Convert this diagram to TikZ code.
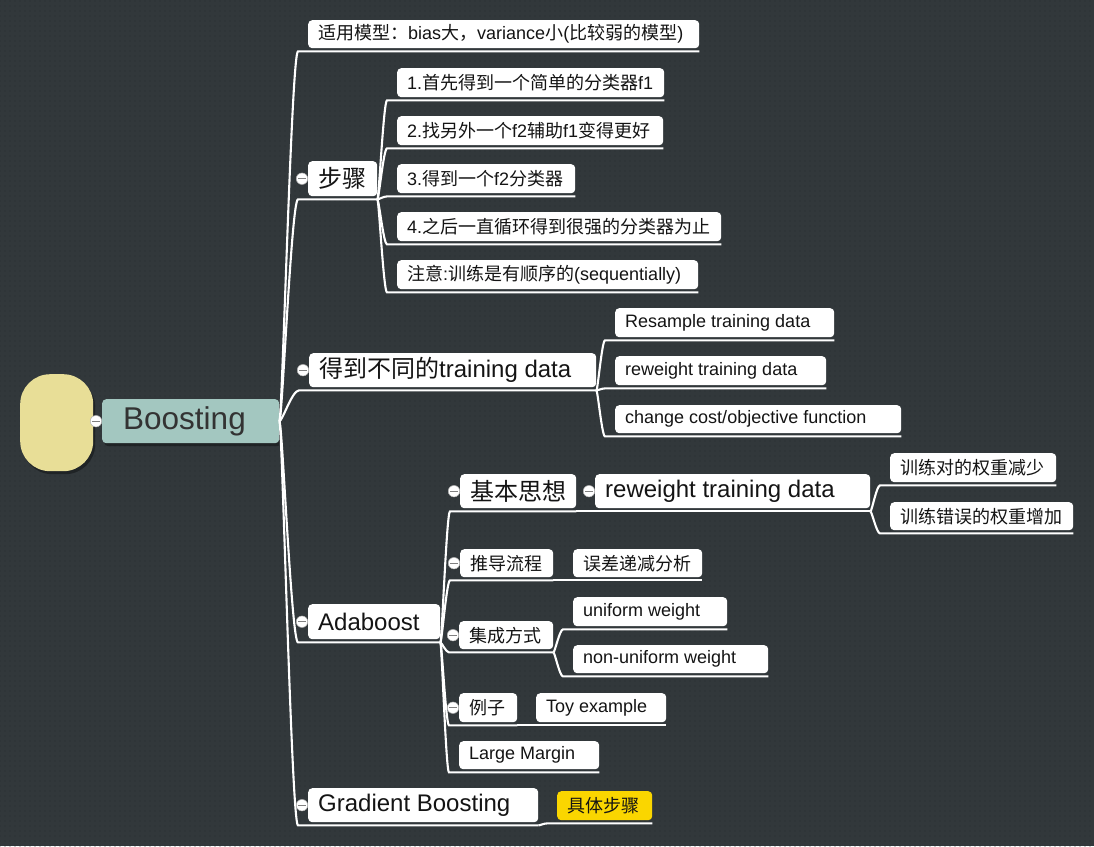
\documentclass[tikz,border=0pt]{standalone}
\usepackage{fontspec}
\setmainfont{Liberation Sans}
\newfontfamily\cjk{Noto Sans CJK SC}
\usetikzlibrary{calc,shadows,patterns.meta}
\definecolor{bg}{RGB}{50,56,59}
\definecolor{dot}{RGB}{40,45,47}
\definecolor{rootfill}{RGB}{163,199,192}
\definecolor{blobfill}{RGB}{232,222,151}
\definecolor{ylw}{RGB}{250,214,0}
\definecolor{txt}{RGB}{20,20,20}
\definecolor{roottxt}{RGB}{51,51,51}
\tikzset{
  leaf/.style={fill=white, rounded corners=4pt, text=txt},
  sm/.style={leaf, font=\fontsize{18}{21}\selectfont},
  lg/.style={leaf, font=\fontsize{24}{28}\selectfont},
  yl/.style={sm, fill=ylw},
  branch/.style={draw=white, line width=2.1pt},
  collapse/.style={circle, fill=white, draw=gray!60, line width=.5pt,
    minimum size=11.5pt, inner sep=0pt,
    path picture={\draw[gray, line width=1.4pt]
      ($(path picture bounding box.center)+(-3.6,0)$) -- ++(7.2,0);}},
  shade/.style={drop shadow={shadow xshift=2pt, shadow yshift=-3pt, fill=black, opacity=.35}}
}
% name, x1, y1, x2, y2, style, text
\newcommand\topic[7]{\node[#6, anchor=north west, minimum height={#5pt-#3pt},
  inner xsep=10pt, inner ysep=0pt] (#1) at (#2,#3)
  {\hbox to \dimexpr#4pt-#2pt-20pt\relax{#7\hfil}};}
% parent point, child node
\newcommand\link[2]{\draw[branch] let \p1=(#1), \p2=($(#2.south west)+(-10,3)$),
  \p3=($(#2.south east)+(0,3)$) in
  (\p1) .. controls (0.85*\x1+0.15*\x2,\y1) and (0.35*\x1+0.65*\x2,\y2) .. (\p2) -- (\p3);}
\newcommand\knob[1]{\node[collapse] (k-#1) at ($(#1.west)+(-6,0)$) {};}
\begin{document}
\begin{tikzpicture}[x=1pt,y=-1pt]
\useasboundingbox (0,0) rectangle (1094,846);
\fill[bg] (0,0) rectangle (1094,846);
\fill[pattern={Dots[distance=5pt, radius=0.7pt]}, pattern color=dot] (0,0) rectangle (1094,846);

% left blob and root
\node[fill=blobfill, rounded corners=30pt, shade, anchor=north west,
  minimum width=73pt, minimum height=97pt, inner sep=0pt] (blob) at (20,374) {};
\node[fill=rootfill, rounded corners=4pt, shade, anchor=north west,
  minimum width=177pt, minimum height=44pt, inner sep=0pt, text=roottxt,
  font=\fontsize{31.5}{36}\selectfont] (root) at (102,399) {\hbox to 157pt{\hskip 11pt Boosting\hfil}};

% level 1
\topic{t1}{308}{20}{699}{48}{sm}{{\cjk 适用模型：}bias{\cjk 大，}variance{\cjk 小}({\cjk 比较弱的模型})}
\topic{t2}{308}{161}{377}{196}{lg}{{\cjk 步骤}}
\topic{t3}{309}{353}{596}{387}{lg}{{\cjk 得到不同的}training data}
\topic{t4}{308}{604}{440}{639}{lg}{Adaboost}
\topic{t5}{308}{788}{538}{822}{lg}{Gradient Boosting}

% steps
\topic{s1}{397}{68}{664}{97}{sm}{1.{\cjk 首先得到一个简单的分类器}f1}
\topic{s2}{397}{116}{663}{145}{sm}{2.{\cjk 找另外一个}f2{\cjk 辅助}f1{\cjk 变得更好}}
\topic{s3}{397}{164}{575}{193}{sm}{3.{\cjk 得到一个}f2{\cjk 分类器}}
\topic{s4}{397}{212}{721}{241}{sm}{4.{\cjk 之后一直循环得到很强的分类器为止}}
\topic{s5}{397}{260}{698}{289}{sm}{{\cjk 注意}:{\cjk 训练是有顺序的}(sequentially)}

% training data
\topic{d1}{615}{308}{834}{337}{sm}{Resample training data}
\topic{d2}{615}{356}{826}{385}{sm}{reweight training data}
\topic{d3}{615}{405}{901}{433}{sm}{change cost/objective function}

% adaboost
\topic{a1}{460}{474}{576}{508}{lg}{{\cjk 基本思想}}
\topic{a1c}{595}{474}{870}{508}{lg}{reweight training data}
\topic{r1}{890}{453}{1056}{482}{sm}{{\cjk 训练对的权重减少}}
\topic{r2}{890}{502}{1073}{530}{sm}{{\cjk 训练错误的权重增加}}
\topic{a2}{460}{549}{553}{577}{sm}{{\cjk 推导流程}}
\topic{a2c}{573}{549}{702}{577}{sm}{{\cjk 误差递减分析}}
\topic{a3}{459}{621}{553}{649}{sm}{{\cjk 集成方式}}
\topic{u1}{573}{597}{727}{626}{sm}{uniform weight}
\topic{u2}{573}{645}{768}{673}{sm}{non-uniform weight}
\topic{a4}{459}{693}{517}{722}{sm}{{\cjk 例子}}
\topic{a4c}{536}{693}{666}{722}{sm}{Toy example}
\topic{a5}{459}{741}{599}{769}{sm}{Large Margin}

% gradient boosting
\topic{g1}{557}{791}{652}{820}{yl}{{\cjk 具体步骤}}

% connectors
\foreach \c in {t1,t2,t3,t4,t5} {\link{root.east}{\c}}
\foreach \c in {s1,s2,s3,s4,s5} {\link{$(t2.south east)+(0,3)$}{\c}}
\foreach \c in {d1,d2,d3} {\link{$(t3.south east)+(0,3)$}{\c}}
\foreach \c in {a1,a2,a3,a4,a5} {\link{$(t4.south east)+(0,3)$}{\c}}
\link{$(a1.south east)+(0,3)$}{a1c}
\foreach \c in {r1,r2} {\link{$(a1c.south east)+(0,3)$}{\c}}
\link{$(a2.south east)+(0,3)$}{a2c}
\foreach \c in {u1,u2} {\link{$(a3.south east)+(0,3)$}{\c}}
\link{$(a4.south east)+(0,3)$}{a4c}
\link{$(t5.south east)+(0,3)$}{g1}

% collapse knobs
\knob{root}
\foreach \n in {t2,t3,t4,t5,a1,a1c,a2,a3,a4} {\knob{\n}}
\end{tikzpicture}
\end{document}
